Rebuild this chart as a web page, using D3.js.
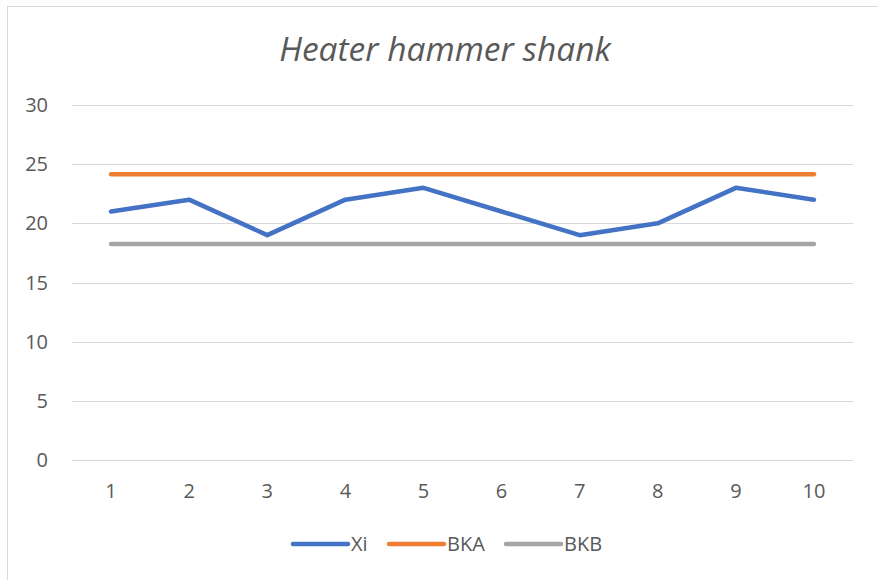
<!DOCTYPE html>
<html>
<head>
<meta charset="utf-8">
<script src="https://cdn.jsdelivr.net/npm/d3@7"></script>
<style>
  body { margin: 0; background: #fff; }
  text { font-family: "Open Sans", "Noto Sans", sans-serif; fill: #595959; }
</style>
</head>
<body>
<div id="chart"></div>
<script>
// chart data
var categories = [1, 2, 3, 4, 5, 6, 7, 8, 9, 10];
var xiValues   = [21, 22, 19, 22, 23, 21, 19, 20, 23, 22];
var bkaValues  = [24.14, 24.14, 24.14, 24.14, 24.14, 24.14, 24.14, 24.14, 24.14, 24.14];
var bkbValues  = [18.26, 18.26, 18.26, 18.26, 18.26, 18.26, 18.26, 18.26, 18.26, 18.26];
var yTicks     = [0, 5, 10, 15, 20, 25, 30];
var seriesNames = ['Xi', 'BKA', 'BKB'];

var colors = { Xi: '#4472C4', BKA: '#ED7D31', BKB: '#A5A5A5' };
var series = [
  { name: 'Xi',  values: xiValues },
  { name: 'BKA', values: bkaValues },
  { name: 'BKB', values: bkbValues }
];

var width = 878, height = 580;
var plot = { left: 72, right: 853, top: 105, bottom: 460 };

var svg = d3.select('#chart').append('svg')
  .attr('width', width)
  .attr('height', height);

// chart border
svg.append('rect')
  .attr('x', 7.5).attr('y', 6.5)
  .attr('width', 900).attr('height', 600)
  .attr('fill', '#fff')
  .attr('stroke', '#d9d9d9')
  .attr('stroke-width', 1);

// title
svg.append('text')
  .attr('x', 445).attr('y', 61)
  .attr('text-anchor', 'middle')
  .style('font-size', '33.5px')
  .style('font-style', 'italic')
  .text('Heater hammer shank');

var x = d3.scaleBand().domain(categories).range([plot.left, plot.right]);
var y = d3.scaleLinear().domain([0, 30]).range([plot.bottom, plot.top]);

// gridlines
svg.append('g')
  .selectAll('line')
  .data(yTicks)
  .enter().append('line')
  .attr('x1', plot.left).attr('x2', plot.right)
  .attr('y1', function(d){ return Math.round(y(d)) + 0.5; })
  .attr('y2', function(d){ return Math.round(y(d)) + 0.5; })
  .attr('stroke', '#d9d9d9')
  .attr('stroke-width', 1);

// y axis labels
svg.append('g')
  .selectAll('text')
  .data(yTicks)
  .enter().append('text')
  .attr('x', 48)
  .attr('y', function(d){ return y(d) + 7; })
  .attr('text-anchor', 'end')
  .style('font-size', '20px')
  .text(function(d){ return d; });

// x axis labels
svg.append('g')
  .selectAll('text')
  .data(categories)
  .enter().append('text')
  .attr('x', function(d){ return x(d) + x.bandwidth() / 2; })
  .attr('y', 498)
  .attr('text-anchor', 'middle')
  .style('font-size', '20px')
  .text(function(d){ return d; });

// lines
var line = d3.line()
  .x(function(d, i){ return x(categories[i]) + x.bandwidth() / 2; })
  .y(function(d){ return y(d); });

svg.append('g')
  .selectAll('path')
  .data(series)
  .enter().append('path')
  .attr('d', function(s){ return line(s.values); })
  .attr('fill', 'none')
  .attr('stroke', function(s){ return colors[s.name]; })
  .attr('stroke-width', 4.5)
  .attr('stroke-linecap', 'round')
  .attr('stroke-linejoin', 'round');

// legend
var legendX = [293, 389, 506];
var legend = svg.append('g')
  .selectAll('g')
  .data(seriesNames)
  .enter().append('g')
  .attr('transform', function(d, i){ return 'translate(' + legendX[i] + ',544)'; });

legend.append('line')
  .attr('x1', 0).attr('x2', 55)
  .attr('y1', 0).attr('y2', 0)
  .attr('stroke', function(d){ return colors[d]; })
  .attr('stroke-width', 4.5)
  .attr('stroke-linecap', 'round');

legend.append('text')
  .attr('x', 58).attr('y', 7)
  .style('font-size', '20px')
  .text(function(d){ return d; });
</script>
</body>
</html>
